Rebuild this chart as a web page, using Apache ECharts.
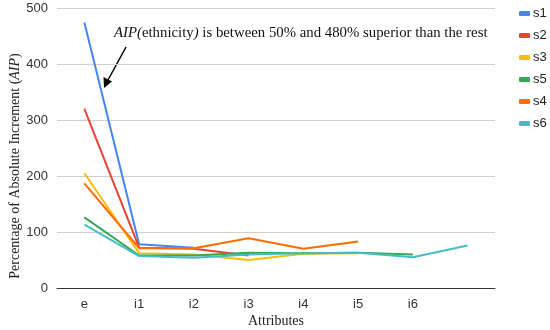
<!DOCTYPE html>
<html><head><meta charset="utf-8">
<script src="https://cdn.jsdelivr.net/npm/echarts@6/dist/echarts.min.js"></script>
<style>html,body{margin:0;padding:0;background:#fff}#c{width:550px;height:330px}</style>
</head><body><div id="c"></div>
<script>
var categories = ['e','i1','i2','i3','i4','i5','i6',''];
var yTicks = [0,100,200,300,400,500];
var s1 = [474, 78, 72, null, null, null, null, null];
var s2 = [320, 72, 70, 58, null, null, null, null];
var s3 = [205, 62, 60, 50, 61, 62, null, null];
var s5 = [126, 58, 58, 63, 62, 63, 60, null];
var s4 = [187, 71, 71, 89, 70, 83, null, null];
var s6 = [113, 57, 54, 60, 62, 63, 55, 76];
var seriesNames = ['s1','s2','s3','s5','s4','s6'];
var seriesData = [s1, s2, s3, s5, s4, s6];
var colors = ['#4285F4','#EA4335','#FBBC04','#34A853','#FF6D01','#46BDC6'];

var chart = echarts.init(document.getElementById('c'));
var series = seriesNames.map(function(n, i){
  return {name:n, type:'line', data:seriesData[i], showSymbol:false, symbol:'none',
    lineStyle:{width:2, color:colors[i]}, itemStyle:{color:colors[i]}, connectNulls:false, animation:false};
});
chart.setOption({
  animation:false,
  color: colors,
  grid:{left:57, right:55, top:8, bottom:42},
  legend:{orient:'vertical', left:514, top:2, icon:'roundRect', itemWidth:11, itemHeight:5, itemGap:9,
    textStyle:{fontFamily:'Liberation Sans, Arial', fontSize:13, color:'#222', padding:[0,0,0,-2]}, data:seriesNames},
  xAxis:{type:'category', data:categories, boundaryGap:true,
    axisLine:{show:true, lineStyle:{color:'#333', width:1}}, axisTick:{show:false},
    axisLabel:{fontFamily:'Liberation Sans, Arial', fontSize:13, color:'#333', margin:10, interval:0}},
  yAxis:{type:'value', min:yTicks[0], max:yTicks[yTicks.length-1], interval:100,
    axisLine:{show:false}, axisTick:{show:false},
    axisLabel:{fontFamily:'Liberation Sans, Arial', fontSize:13, color:'#333', margin:9},
    splitLine:{lineStyle:{color:'#d0d0d0', width:1}}},
  series: series,
  graphic:[
    {type:'text', left:114, top:26, style:{
      text:'{i|AIP(}ethnicity{i|)} is between 50% and 480% superior than the rest',
      font:'14.8px "Liberation Serif", "Times New Roman", serif', fill:'#111',
      rich:{i:{fontStyle:'italic', fontFamily:'Liberation Serif', fontSize:14.8, fill:'#111'}}}},
    {type:'line', shape:{x1:126, y1:47, x2:108, y2:80}, style:{stroke:'#000', lineWidth:1.5}},
    {type:'polygon', shape:{points:[[104,88],[103.5,77],[112,81.5]]}, style:{fill:'#000'}},
    {type:'text', x:15, y:166, rotation:Math.PI/2, style:{
      text:'Percentage of Absolute Increment ({i|AIP})', align:'center', verticalAlign:'middle',
      font:'14px "Liberation Serif", "Times New Roman", serif', fill:'#222',
      rich:{i:{fontStyle:'italic', fontFamily:'Liberation Serif', fontSize:14, fill:'#222'}}}},
    {type:'text', x:276, y:321, style:{text:'Attributes', align:'center', verticalAlign:'middle',
      font:'14px "Liberation Serif", "Times New Roman", serif', fill:'#222'}}
  ]
});
</script></body></html>
